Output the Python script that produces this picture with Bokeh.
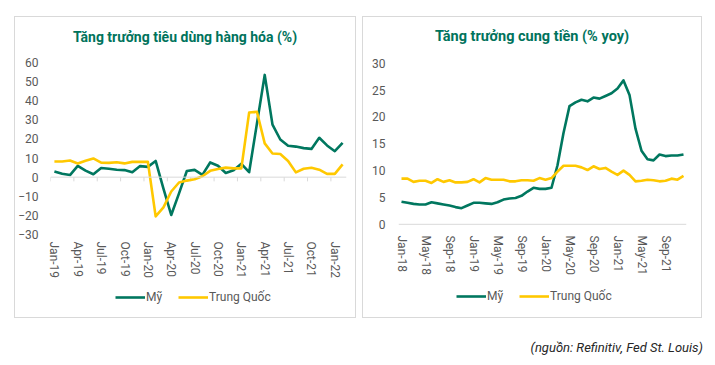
import numpy as np
from bokeh.plotting import figure
from bokeh.models import Range1d, FixedTicker, Span, Legend, LegendItem, Div, Spacer
from bokeh.layouts import row, column
from bokeh.embed import file_html
from bokeh.resources import INLINE

MON = ["Jan", "Feb", "Mar", "Apr", "May", "Jun", "Jul", "Aug", "Sep", "Oct", "Nov", "Dec"]

# ---- Left chart: goods consumption growth (%) ----
months_left = [f"{m}-{y}" for y in ("19", "20", "21") for m in MON] + ["Jan-22", "Feb-22"]
us_goods = [3.0, 1.8, 1.1, 5.9, 3.4, 1.5, 4.8, 4.4, 3.9, 3.7, 2.6, 5.8, 5.4, 8.5,
            -6.0, -19.8, -8.5, 3.2, 3.8, 1.2, 7.7, 6.0, 2.2, 3.6, 7.0, 2.6,
            28.0, 53.5, 27.5, 19.7, 16.4, 16.0, 15.2, 14.8, 20.6, 16.6, 13.6, 18.0]
cn_goods = [8.2, 8.2, 8.7, 7.2, 8.6, 9.8, 7.6, 7.5, 7.8, 7.2, 8.0, 8.0, 8.0, -20.5,
            -15.8, -7.5, -2.8, -1.8, -1.1, 0.5, 3.3, 4.3, 5.0, 4.6, 4.6, 33.8,
            34.2, 17.7, 12.4, 12.1, 8.5, 2.5, 4.4, 4.9, 3.9, 1.7, 1.7, 6.7]
left_yticks = [-30, -20, -10, 0, 10, 20, 30, 40, 50, 60]

# ---- Right chart: money supply growth (% yoy) ----
months_right = [f"{m}-{y}" for y in ("18", "19", "20", "21") for m in MON]
us_m2 = [4.2, 4.0, 3.8, 3.7, 3.7, 4.1, 3.9, 3.7, 3.5, 3.2, 3.0, 3.5,
         4.0, 4.0, 3.9, 3.8, 4.1, 4.6, 4.8, 4.9, 5.3, 6.1, 6.8, 6.6,
         6.6, 6.8, 11.0, 17.0, 22.0, 22.7, 23.2, 22.9, 23.6, 23.4, 23.9, 24.4,
         25.3, 26.8, 24.1, 17.8, 13.7, 12.1, 11.9, 13.0, 12.7, 12.8, 12.8, 13.0]
cn_m2 = [8.5, 8.5, 7.9, 8.1, 8.1, 7.7, 8.4, 7.9, 8.2, 7.8, 7.8, 7.9,
         8.4, 7.8, 8.6, 8.3, 8.3, 8.3, 8.0, 8.0, 8.2, 8.2, 8.1, 8.6,
         8.3, 8.6, 9.8, 10.9, 10.9, 10.9, 10.6, 10.1, 10.8, 10.3, 10.5, 9.8,
         9.2, 10.0, 9.2, 8.0, 8.1, 8.3, 8.2, 8.0, 8.1, 8.5, 8.3, 9.0]
right_yticks = [0, 5, 10, 15, 20, 25, 30]

series_names = ["Mỹ", "Trung Quốc"]
titles = ["Tăng trưởng tiêu dùng hàng hóa (%)", "Tăng trưởng cung tiền (% yoy)"]

GREEN = "#00775F"
YELLOW = "#FFC800"
TITLE_C = "#00735C"
GRAY_T = "#595959"
LINE_G = "#D9D9D9"
FONT = "Roboto"


def chart_fig(width, height, left, right, top, bottom, yr, xr):
    p = figure(width=width, height=height, output_backend="svg", toolbar_location=None,
               x_range=xr, y_range=yr, min_border_left=left, min_border_right=right,
               min_border_top=top, min_border_bottom=bottom)
    p.outline_line_color = None
    p.grid.grid_line_color = None
    for ax in (p.xaxis[0], p.yaxis[0]):
        ax.major_tick_in = 0
        ax.major_tick_out = 0
        ax.minor_tick_in = 0
        ax.minor_tick_out = 0
        ax.axis_line_color = None
        ax.major_label_text_font = FONT
        ax.major_label_text_font_size = "12px"
        ax.major_label_text_color = GRAY_T
    p.xaxis.major_label_orientation = "vertical"
    return p


def title_div(text, width, size):
    return Div(text=text, width=width, height=34, margin=0,
               styles={"font-family": FONT, "font-weight": "bold", "font-size": size,
                       "color": TITLE_C, "text-align": "center", "line-height": "40px",
                       "white-space": "nowrap"})


def legend_fig(width, loc):
    lf = figure(width=width, height=35, output_backend="svg", toolbar_location=None,
                x_range=Range1d(0, 1), y_range=Range1d(0, 1),
                x_axis_type=None, y_axis_type=None, min_border=0)
    lf.outline_line_color = None
    lf.grid.visible = False
    # legend keys only (no visible data)
    k1 = lf.line(x=[np.nan], y=[np.nan], line_color=GREEN, line_width=2.6)
    k2 = lf.line(x=[np.nan], y=[np.nan], line_color=YELLOW, line_width=2.6)
    lg = Legend(items=[LegendItem(label=series_names[0], renderers=[k1]),
                       LegendItem(label=series_names[1], renderers=[k2])],
                orientation="horizontal", location=loc)
    lg.border_line_color = None
    lg.background_fill_alpha = 0
    lg.padding = 0
    lg.margin = 0
    lg.spacing = 12
    lg.label_standoff = 1
    lg.glyph_width = 30
    lg.glyph_height = 12
    lg.label_text_font = FONT
    lg.label_text_font_size = "12px"
    lg.label_text_color = GRAY_T
    lf.add_layout(lg)
    return lf


# ---------- Left chart ----------
xl = list(range(len(months_left)))
p1 = chart_fig(340, 231, 35, 9, 11, 48, Range1d(-30, 60), Range1d(-0.5, len(xl) - 0.5))
p1.yaxis.ticker = FixedTicker(ticks=left_yticks)
p1.yaxis.major_label_standoff = 12
lt = list(range(0, len(xl), 3))
p1.xaxis.ticker = FixedTicker(ticks=lt)
p1.xaxis.major_label_overrides = {i: months_left[i] for i in lt}
p1.xaxis.major_label_standoff = 7
p1.add_layout(Span(location=0, dimension="width", line_color=LINE_G, line_width=1))
bounds = [i - 0.5 for i in lt]
p1.segment(x0=bounds, y0=[0] * len(bounds), x1=bounds, y1=[-2.2] * len(bounds),
           line_color=LINE_G, line_width=1)
p1.line(xl, us_goods, line_color=GREEN, line_width=2.6, line_join="round")
p1.line(xl, cn_goods, line_color=YELLOW, line_width=2.6, line_join="round")

# ---------- Right chart ----------
xr_ = list(range(len(months_right)))
p2 = chart_fig(338, 231, 35, 15, 11, 48, Range1d(-1.9, 30.13), Range1d(-0.5, len(xr_) - 0.5))
p2.yaxis.ticker = FixedTicker(ticks=right_yticks)
p2.yaxis.major_label_standoff = 13
rt = list(range(0, len(xr_), 4))
p2.xaxis.ticker = FixedTicker(ticks=rt)
p2.xaxis.major_label_overrides = {i: months_right[i] for i in rt}
p2.xaxis.major_label_standoff = 1
p2.add_layout(Span(location=0, dimension="width", line_color=LINE_G, line_width=1))
p2.line(xr_, us_m2, line_color=GREEN, line_width=2.6, line_join="round")
p2.line(xr_, cn_m2, line_color=YELLOW, line_width=2.6, line_join="round")

BOX = {"border": "1px solid #D9D9D9"}
box1 = column(title_div(titles[0], 340, "14px"), p1, legend_fig(340, (65, 13)), styles=BOX)
box2 = column(title_div(titles[1], 338, "14.5px"), p2, legend_fig(338, (58, 14)), styles=BOX)

source = Div(text="(nguồn: Refinitiv, Fed St. Louis)", width=703, margin=(21, 0, 0, 0),
             styles={"font-family": FONT, "font-style": "italic", "font-size": "13px",
                     "color": "#262626", "text-align": "right"})

layout = column(Spacer(height=16),
                row(Spacer(width=14), box1, Spacer(width=6), box2),
                source)
open("out.html", "w").write(file_html(layout, INLINE))
